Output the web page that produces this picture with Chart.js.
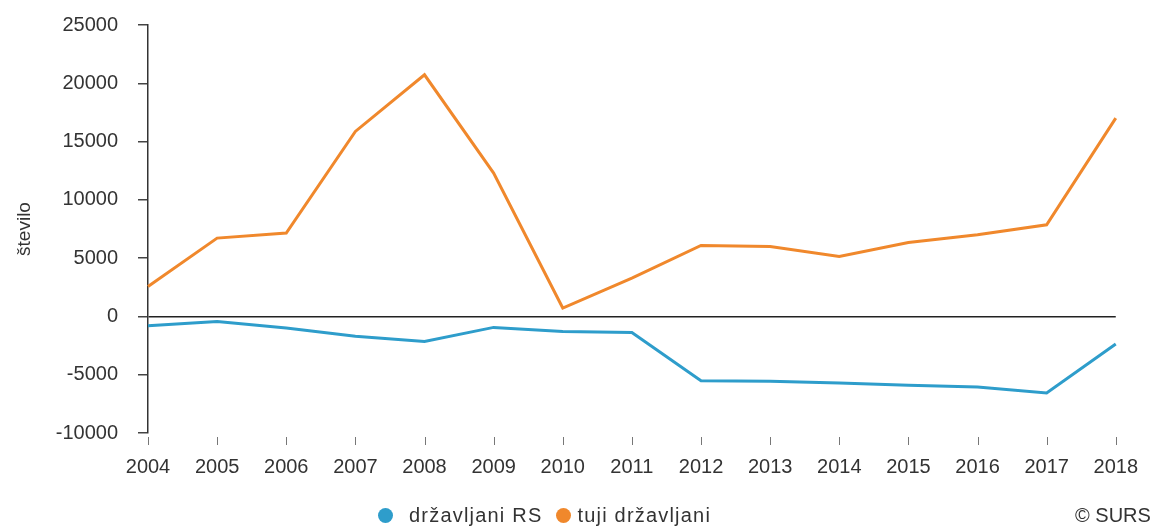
<!DOCTYPE html>
<html>
<head>
<meta charset="utf-8">
<script src="https://cdn.jsdelivr.net/npm/chart.js@4.4.1/dist/chart.umd.min.js"></script>
<style>
  body { margin: 0; background: #fff; font-family: "Liberation Sans", Arial, sans-serif; }
  #wrap { position: relative; width: 1160px; height: 527px; }
  #legend { position: absolute; left: 378px; top: 504px; font-size: 20px; line-height: 22px; color: #333; white-space: nowrap; }
  #legend .txt { letter-spacing: 1.2px; }
  #legend span.dot { display: inline-block; width: 15px; height: 15px; border-radius: 50%; vertical-align: -1px; }
  #surs { position: absolute; left: 1075px; top: 504px; font-size: 20px; line-height: 22px; color: #333; white-space: nowrap; }
</style>
</head>
<body>
<div id="wrap">
  <canvas id="myChart" width="1160" height="527"></canvas>
  <div id="legend"></div>
  <div id="surs">© SURS</div>
</div>
<script>
const years = ['2004','2005','2006','2007','2008','2009','2010','2011','2012','2013','2014','2015','2016','2017','2018'];
const drzavljaniRS = [-800,-430,-1000,-1700,-2140,-940,-1290,-1380,-5510,-5570,-5710,-5910,-6050,-6570,-2370];
const tujiDrzavljani = [2570,6720,7150,15870,20730,12300,720,3290,6090,6000,5140,6350,7000,7860,17010];
const yTicks = [-10000,-5000,0,5000,10000,15000,20000,25000];

const blue = '#2e9dcb';
const orange = '#f0882c';

// small tick marks under the x axis, a few px below the plot
const xTickMarks = {
    id: 'xTickMarks',
    afterDraw(chart) {
        const ctx = chart.ctx;
        const x = chart.scales.x;
        const bottom = chart.chartArea.bottom;
        ctx.save();
        ctx.strokeStyle = '#777';
        ctx.lineWidth = 1;
        x.ticks.forEach((t, i) => {
            const px = Math.round(x.getPixelForTick(i)) + 0.5;
            ctx.beginPath();
            ctx.moveTo(px, bottom + 4);
            ctx.lineTo(px, bottom + 12);
            ctx.stroke();
        });
        ctx.restore();
    }
};

const ctx = document.getElementById('myChart').getContext('2d');
new Chart(ctx, {
    type: 'line',
    data: {
        labels: years,
        datasets: [{
            label: 'državljani RS',
            data: drzavljaniRS,
            borderColor: blue,
            backgroundColor: blue,
            borderWidth: 3,
            pointRadius: 0,
            tension: 0
        }, {
            label: 'tuji državljani',
            data: tujiDrzavljani,
            borderColor: orange,
            backgroundColor: orange,
            borderWidth: 3,
            pointRadius: 0,
            tension: 0
        }]
    },
    options: {
        responsive: false,
        animation: false,
        layout: { padding: { left: 0, right: 44, top: 25, bottom: 0 } },
        plugins: {
            legend: { display: false },
            tooltip: { enabled: false }
        },
        scales: {
            x: {
                offset: false,
                grid: { display: false, drawTicks: false, tickLength: 0 },
                border: { display: false },
                ticks: { color: '#333', font: { family: 'Liberation Sans', size: 20 }, padding: 22, maxRotation: 0, autoSkip: false },
                afterFit(scale) { scale.height = 94; }
            },
            y: {
                min: -10000,
                max: 25000,
                afterBuildTicks(scale) { scale.ticks = yTicks.map(v => ({ value: v })); },
                grid: {
                    color: c => c.tick && c.tick.value === 0 ? '#222' : 'rgba(0,0,0,0)',
                    lineWidth: 1.5,
                    tickColor: '#444',
                    tickLength: 10,
                    drawTicks: true
                },
                border: { display: true, color: '#333', width: 1.5 },
                ticks: {
                    color: '#333',
                    font: { family: 'Liberation Sans', size: 20 },
                    padding: 20,
                    callback: v => String(v)
                },
                title: { display: true, text: 'število', color: '#333', font: { family: 'Liberation Sans', size: 19 }, padding: { top: 13, bottom: 0 } },
                afterFit(scale) {
                    scale.width = 148;
                    scale.paddingTop = 0;
                    scale.paddingBottom = 0;
                }
            }
        }
    },
    plugins: [xTickMarks]
});

// legend built from the dataset names
const legend = document.getElementById('legend');
[['državljani RS', blue], ['tuji državljani', orange]].forEach((item, i) => {
    legend.innerHTML += `<span class="dot" style="background:${item[1]};margin-left:${i ? 14 : 0}px"></span>` +
        `<span class="txt" style="margin-left:${i ? 6 : 16}px">${item[0]}</span>`;
});
</script>
</body>
</html>
